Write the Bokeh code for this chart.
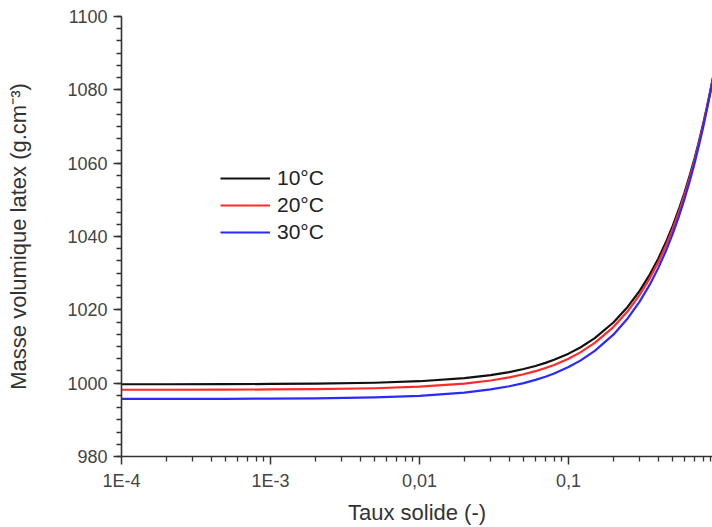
from bokeh.plotting import figure
from bokeh.models import (FixedTicker, CustomJSTickFormatter, Legend, LegendItem,
                          Range1d, ColumnDataSource)
from bokeh.embed import file_html
from bokeh.resources import INLINE

# Data
taux = [1e-4, 2e-4, 5e-4, 1e-3, 2e-3, 5e-3, 0.01, 0.02, 0.03, 0.04, 0.05, 0.06,
        0.07, 0.08, 0.1, 0.12, 0.15, 0.2, 0.25, 0.3, 0.35, 0.4, 0.45, 0.5, 0.55,
        0.6, 0.65, 0.7, 0.75, 0.8, 0.85, 0.9, 0.95, 1.0]
rho_10 = [999.70, 999.71, 999.74, 999.78, 999.87, 1000.11, 1000.53, 1001.36,
          1002.19, 1003.02, 1003.86, 1004.69, 1005.53, 1006.37, 1008.05, 1009.74,
          1012.28, 1016.54, 1020.85, 1025.18, 1029.55, 1033.96, 1038.41, 1042.90,
          1047.43, 1052.00, 1056.60, 1061.20, 1065.93, 1070.70, 1075.43, 1080.20,
          1085.10, 1090.00]
rho_20 = [998.20, 998.21, 998.24, 998.28, 998.37, 998.62, 999.04, 999.89,
          1000.73, 1001.58, 1002.43, 1003.27, 1004.12, 1004.97, 1006.68, 1008.39,
          1010.98, 1015.30, 1019.67, 1024.08, 1028.52, 1033.00, 1037.52, 1042.08,
          1046.68, 1051.33, 1056.01, 1060.74, 1065.51, 1070.31, 1075.17, 1080.07,
          1085.01, 1090.00]
rho_30 = [995.70, 995.71, 995.74, 995.79, 995.87, 996.13, 996.56, 997.43,
          998.29, 999.16, 1000.02, 1000.89, 1001.76, 1002.64, 1004.39, 1006.15,
          1008.79, 1013.23, 1017.71, 1022.23, 1026.79, 1031.39, 1036.03, 1040.71,
          1045.45, 1050.21, 1055.03, 1059.88, 1064.79, 1069.73, 1074.74, 1079.77,
          1084.87, 1090.00]
series_names = ["10°C", "20°C", "30°C"]
series_colors = ["#111111", "#ff2a2a", "#2a2aff"]

xtick_vals = [1e-4, 1e-3, 1e-2, 1e-1]
xtick_labels = ["1E-4", "1E-3", "0,01", "0,1"]
x_minor = [m * 10.0 ** e for e in range(-4, 0) for m in range(2, 10)]
ytick_vals = [980, 1000, 1020, 1040, 1060, 1080, 1100]

p = figure(width=712, height=527, output_backend="svg", toolbar_location=None,
           x_axis_type="log", x_range=Range1d(1e-4, 0.925), y_range=Range1d(980, 1100),
           min_border_left=121, min_border_right=0, min_border_top=16,
           min_border_bottom=71)
p.outline_line_color = None
p.xgrid.visible = False
p.ygrid.visible = False
p.background_fill_color = "white"
p.border_fill_color = "white"

renderers = []
for ys, c in zip([rho_10, rho_20, rho_30], series_colors):
    src = ColumnDataSource(dict(x=taux, y=ys))
    renderers.append(p.line("x", "y", source=src, line_color=c, line_width=2.2,
                            line_join="round"))

# axes
p.xaxis.ticker = FixedTicker(ticks=xtick_vals, minor_ticks=x_minor)
p.xaxis.formatter = CustomJSTickFormatter(
    args=dict(vals=xtick_vals, labels=xtick_labels),
    code="""
    for (let i = 0; i < vals.length; i++) {
        if (Math.abs(Math.log10(tick) - Math.log10(vals[i])) < 1e-6) return labels[i];
    }
    return '';
    """)
p.yaxis.ticker = FixedTicker(ticks=ytick_vals,
                             minor_ticks=[980 + i * 20 / 6 for i in range(37)])

for ax in (p.xaxis[0], p.yaxis[0]):
    ax.axis_line_color = "#333333"
    ax.axis_line_width = 1.6
    ax.major_tick_line_color = "#333333"
    ax.minor_tick_line_color = "#333333"
    ax.major_tick_line_width = 1.5
    ax.minor_tick_line_width = 1.3
    ax.major_tick_out = 8
    ax.major_tick_in = 0
    ax.minor_tick_out = 5
    ax.minor_tick_in = 0
    ax.major_label_text_font = "Liberation Sans"
    ax.major_label_text_font_size = "18px"
    ax.major_label_text_color = "#444444"
    ax.axis_label_text_font = "Liberation Sans"
    ax.axis_label_text_font_size = "22px"
    ax.axis_label_text_font_style = "normal"
    ax.axis_label_text_color = "#333333"

p.xaxis.axis_label = "Taux solide (-)"
p.xaxis.major_label_standoff = 6
p.xaxis.axis_label_standoff = 6
p.yaxis.axis_label = "Masse volumique latex (g.cm⁻³)"
p.yaxis.major_label_standoff = 6
p.yaxis.axis_label_standoff = 33

legend = Legend(items=[LegendItem(label=n, renderers=[r])
                       for n, r in zip(series_names, renderers)],
                location=(99, 212))
legend.border_line_color = None
legend.background_fill_alpha = 0
legend.padding = 0
legend.margin = 0
legend.spacing = 3
legend.glyph_width = 50
legend.glyph_height = 24
legend.label_height = 24
legend.label_standoff = 7
legend.label_text_font = "Liberation Sans"
legend.label_text_font_size = "21px"
legend.label_text_color = "#222222"
p.add_layout(legend, "center")

open("out.html", "w").write(file_html(p, INLINE))
